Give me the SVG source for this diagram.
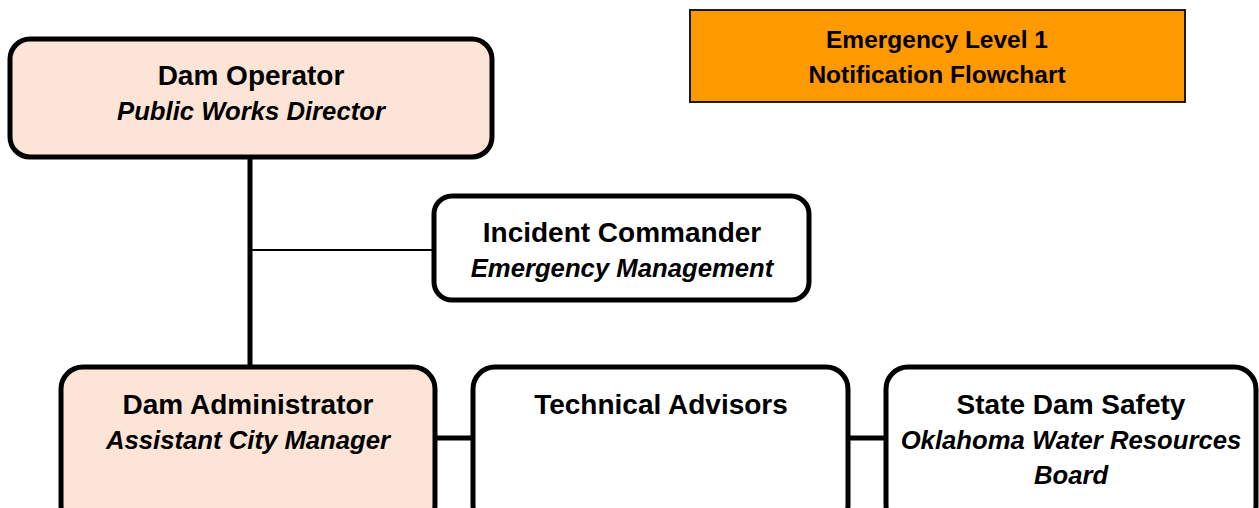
<svg xmlns="http://www.w3.org/2000/svg" width="1259" height="508" viewBox="0 0 1259 508">
<style>
.box{stroke:#000;stroke-width:5}
.peach{fill:#FCE4D6}
.white{fill:#FFFFFF}
.t{font-family:"Liberation Sans",Arial,sans-serif;text-anchor:middle;fill:#000}
.b{font-weight:bold;font-size:28px}
.i{font-weight:bold;font-style:italic;font-size:25.7px}
.h{font-weight:bold;font-size:24.5px}
.thick{stroke:#000;stroke-width:5;fill:none}
.thin{stroke:#000;stroke-width:2;fill:none}
</style>
<rect width="1259" height="508" fill="#fff"/>
<g id="connectors">
<line class="thick" x1="250" y1="156" x2="250" y2="368"/>
<line class="thin" x1="250" y1="250" x2="434" y2="250"/>
<line class="thick" x1="435" y1="438" x2="473" y2="438"/>
<line class="thick" x1="848" y1="438" x2="886" y2="438"/>
</g>
<g id="title">
<rect x="690" y="10" width="495" height="92" fill="#FF9900" stroke="#1a1a1a" stroke-width="2"/>
<text class="t h" x="937" y="48">Emergency Level 1</text>
<text class="t h" x="937" y="83">Notification Flowchart</text>
</g>
<g id="dam-operator">
<rect class="box peach" x="10" y="39" width="482" height="118" rx="20"/>
<text class="t b" x="251" y="85">Dam Operator</text>
<text class="t i" x="251" y="120">Public Works Director</text>
</g>
<g id="incident-commander">
<rect class="box white" x="434" y="196" width="375" height="104" rx="18"/>
<text class="t b" x="622" y="242">Incident Commander</text>
<text class="t i" x="622" y="277">Emergency Management</text>
</g>
<g id="dam-administrator">
<rect class="box peach" x="61" y="367" width="374" height="160" rx="22"/>
<text class="t b" x="248" y="414">Dam Administrator</text>
<text class="t i" x="248" y="449">Assistant City Manager</text>
</g>
<g id="technical-advisors">
<rect class="box white" x="473" y="367" width="375" height="160" rx="22"/>
<text class="t b" x="661" y="414">Technical Advisors</text>
</g>
<g id="state-dam-safety">
<rect class="box white" x="886" y="367" width="370" height="160" rx="22"/>
<text class="t b" x="1071" y="414">State Dam Safety</text>
<text class="t i" x="1071" y="449">Oklahoma Water Resources</text>
<text class="t i" x="1071" y="484">Board</text>
</g>
</svg>
